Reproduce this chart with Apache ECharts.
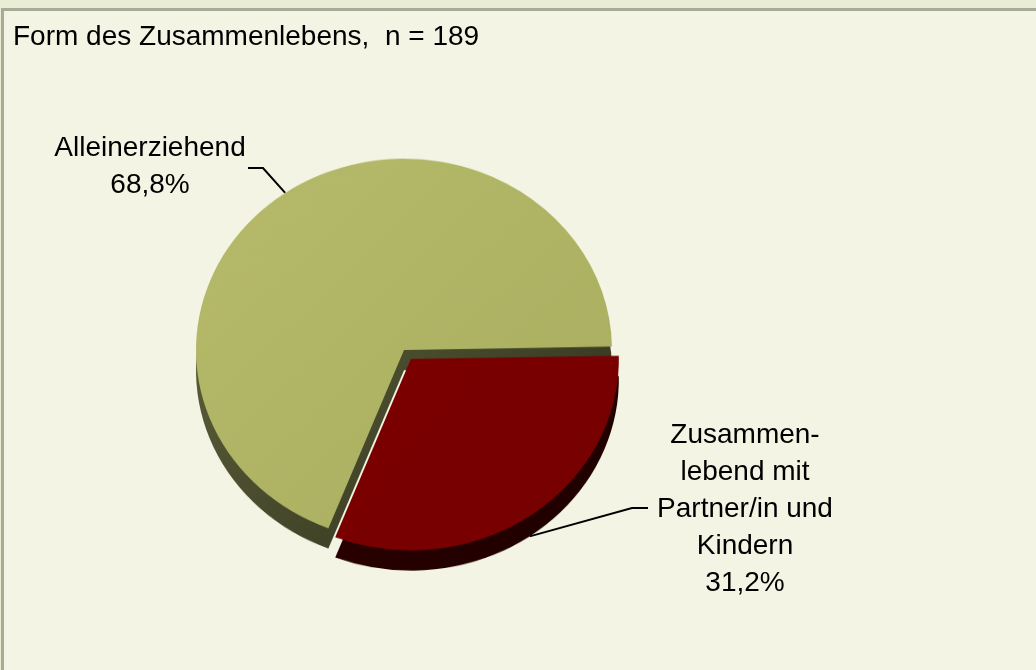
<!DOCTYPE html>
<html>
<head>
	<meta charset="UTF-8">
	<title></title>
	<script src="https://cdn.jsdelivr.net/npm/echarts@6/dist/echarts.min.js" type="text/javascript" charset="utf-8"></script>
	<style type="text/css">
		* {
			margin: 0;
			padding: 0;
		}
		html, body {
			width: 1036px;
			height: 670px;
			overflow: hidden;
			background: #e9edd6;
		}
		#frame {
			position: absolute;
			left: 1px;
			top: 8px;
			width: 1100px;
			height: 700px;
			border-left: 3px solid #a8ab95;
			border-top: 3px solid #a8ab95;
			background: #f3f4e4;
		}
		#app, #pie {
			position: absolute;
			left: 0;
			top: 0;
			width: 1036px;
			height: 670px;
		}
		#app {
			z-index: 1;
		}
		/* tilt the pie: squash it a little in y around its centre */
		#pie {
			z-index: 2;
			transform: scaleY(0.92);
			transform-origin: 404px 350px;
		}
	</style>
</head>
<body>
	<div id="frame"></div>
	<div id="app"></div>
	<div id="pie"></div>
	<script type="text/javascript">
		// data
		var titleText = 'Form des Zusammenlebens,  n = 189';
		var categories = ['Zusammen-\nlebend mit\nPartner/in und\nKindern', 'Alleinerziehend'];
		var shares = [31.2, 68.8];

		// look
		var font = '"Liberation Sans", Arial, sans-serif';
		var topColors = [
			['#7c0000', '#760000'],
			['#b6ba6a', '#a9ae60']
		];
		var sideColors = [
			['#300000', '#1c0000'],
			['#666940', '#2c2e1a']
		];
		var squash = 0.92;
		var pieCenter = [404, 350];
		var pieRadius = 208;
		var depth = 22;
		var explode = 12;
		// label centre [x, y] and leader line [bendX, endX, y]
		var labelPos = [[745, 509], [150, 167]];
		var leader = [[632, 648, 508], [263, 248, 168]];

		function grad(c) {
			return new echarts.graphic.LinearGradient(0, 0, 1, 1, [
				{ offset: 0, color: c[0] },
				{ offset: 1, color: c[1] }
			]);
		}

		function pieData(colors) {
			return categories.map(function(name, i) {
				return {
					name: name,
					value: shares[i],
					selected: i === 0,
					itemStyle: { color: colors ? grad(colors[i]) : 'transparent' }
				};
			});
		}

		function pieSeries(center, colors) {
			return {
				type: 'pie',
				silent: true,
				center: center,
				radius: pieRadius,
				startAngle: 1,
				clockwise: true,
				selectedMode: 'single',
				selectedOffset: explode,
				label: { show: false },
				labelLine: { show: false },
				emphasis: { disabled: true },
				data: pieData(colors)
			};
		}

		// pie faces (squashed by css)
		var pieChart = echarts.init(document.getElementById('pie'));
		pieChart.setOption({
			animation: false,
			series: [
				pieSeries([pieCenter[0], pieCenter[1] + depth], sideColors),
				pieSeries(pieCenter, topColors)
			]
		});

		// title and labels, drawn under the pie canvas
		var myChart = echarts.init(document.getElementById('app'));
		myChart.setOption({
			animation: false,
			title: {
				text: titleText,
				left: 13,
				top: 23,
				padding: 0,
				textStyle: {
					fontFamily: font,
					fontSize: 28,
					fontWeight: 'normal',
					color: '#000'
				}
			},
			series: [{
				type: 'pie',
				silent: true,
				center: pieCenter,
				radius: pieRadius,
				startAngle: 1,
				clockwise: true,
				avoidLabelOverlap: false,
				emphasis: { disabled: true },
				label: {
					show: true,
					position: 'outside',
					formatter: function(p) {
						var lines = p.name.split('\n');
						lines.push(p.value.toFixed(1).replace('.', ',') + '%');
						return lines.map(function(l) {
							return '{c|' + l + '}';
						}).join('\n');
					},
					rich: {
						c: {
							width: 200,
							align: 'center',
							fontFamily: font,
							fontSize: 28,
							lineHeight: 37,
							color: '#000'
						}
					}
				},
				labelLine: {
					show: true,
					lineStyle: { color: '#000', width: 2 }
				},
				labelLayout: function(params) {
					var i = params.dataIndex;
					var p0 = params.labelLinePoints[0];
					var dx = p0[0] - pieCenter[0];
					var dy = p0[1] - pieCenter[1];
					var ax = pieCenter[0] + dx;
					var ay = pieCenter[1] + dy * squash;
					if (i === 0) {
						// exploded slice: move anchor with it and down to the wall edge
						var len = Math.sqrt(dx * dx + dy * dy);
						ax += explode * dx / len;
						ay += (explode * dy / len + depth) * squash;
					}
					var l = leader[i];
					return {
						x: labelPos[i][0],
						y: labelPos[i][1],
						align: 'center',
						verticalAlign: 'middle',
						labelLinePoints: [[ax, ay], [l[0], l[2]], [l[1], l[2]]]
					};
				},
				data: pieData(null)
			}]
		});
	</script>
</body>
</html>
